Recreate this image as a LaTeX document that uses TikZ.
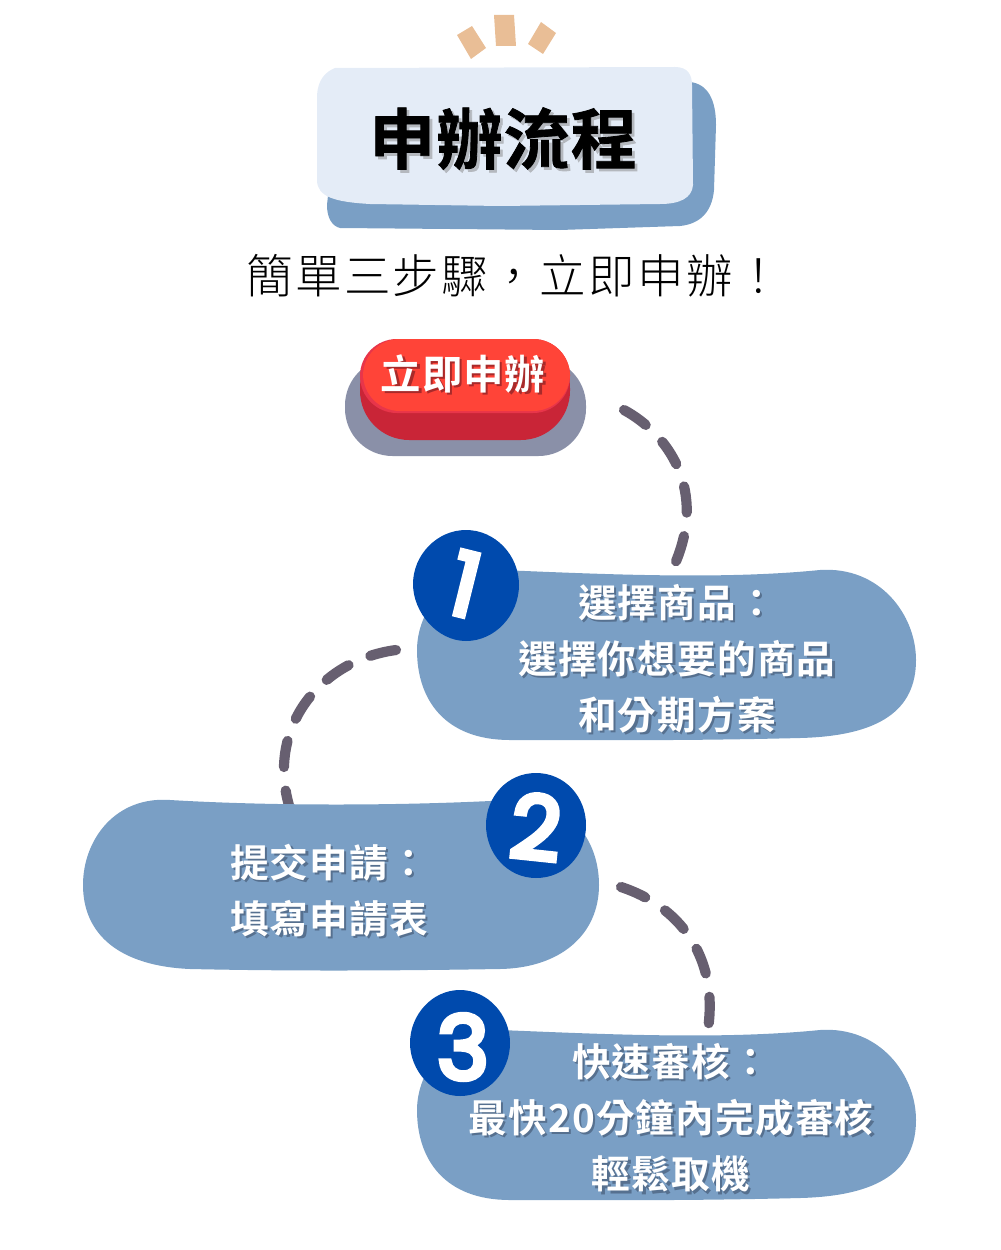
\documentclass[tikz,border=0pt]{standalone}
\usepackage{fontspec}
\usepackage{tikz}
\setmainfont{Noto Sans CJK TC}
\newfontfamily\cardfont[LetterSpace=3]{Noto Sans CJK TC Bold}
\newfontfamily\buttonfont[LetterSpace=2]{Noto Sans CJK TC Bold}
\newfontfamily\titlefont[FakeBold=1.2,LetterSpace=2]{Noto Sans CJK TC Bold}
\newfontfamily\subfont[LetterSpace=5]{Noto Sans CJK TC Light}
\newfontfamily\numfont[FakeBold=6]{Poppins}
\definecolor{cardblue}{HTML}{7A9FC5}
\definecolor{palecard}{HTML}{E4ECF7}
\definecolor{tickcol}{HTML}{E9BE96}
\definecolor{dashcol}{HTML}{675F70}
\definecolor{circlecol}{HTML}{004AAD}
\definecolor{btnback}{HTML}{8A90A8}
\definecolor{btndark}{HTML}{C92537}
\definecolor{btnedge}{HTML}{E8354A}
\definecolor{btntop}{HTML}{FF4438}
\definecolor{titleshade}{HTML}{B4B8BE}
\definecolor{cardshade}{HTML}{56708F}
\definecolor{btnshade}{HTML}{A82A2A}
\newcommand{\shadowed}[3]{\leavevmode\rlap{\kern#1\raisebox{-#1}{\color{#2}#3}}#3}
\tikzset{
  dashline/.style={dashcol,line width=5.8pt,line cap=round,dash pattern=on 15pt off 13.5pt},
  cardtext/.style={white,font=\cardfont\fontsize{22}{31.9}\selectfont,align=center},
  numtext/.style={white,font=\numfont\fontsize{50}{50}\selectfont}
}
\begin{document}
\begin{tikzpicture}[x=0.02cm,y=-0.02cm]
\tikzstyle{every node}+=[inner sep=0pt]
\useasboundingbox (0,0) rectangle (1000,1250);
% ticks
\fill [tickcol] (457,35) -- (472,26) -- (486,48) -- (471,59) -- cycle;
\fill [tickcol] (494,15) -- (514,15) -- (516,46) -- (496,46) -- cycle;
\fill [tickcol] (541,22) -- (556,33) -- (543,54) -- (528,44) -- cycle;
% title card
\fill [cardblue] (340,82) -- (690,82) .. controls (708,84) and (716,100) .. (716,125) -- (714,190) .. controls (712,212) and (700,224) .. (680,226) -- (560,230) -- (340,228) .. controls (332,226) and (327,218) .. (327,205) -- cycle;
\fill [palecard] (335,68) -- (675,67) .. controls (688,67) and (692,75) .. (692,85) -- (693,185) .. controls (692,198) and (680,204) .. (660,204) -- (500,206) -- (370,204) .. controls (335,202) and (317,197) .. (317,180) -- (317,95) .. controls (318,80) and (325,72) .. (335,68) -- cycle;
\node (title) at (503,140) {\titlefont\fontsize{37.5}{38}\selectfont\shadowed{1.6pt}{titleshade}{申辦流程}};
\node (subtitle) at (514,276) {\subfont\fontsize{26.5}{26.5}\selectfont 簡單三步驟，立即申辦！};
% button
\fill [btnback,rounded corners=27pt] (345,358) rectangle (586,456);
\fill [btndark,rounded corners=28pt] (360,339) rectangle (570,440);
\fill [btnedge,rounded corners=21pt] (360,339) rectangle (570,413);
\fill [btntop,rounded corners=21pt] (363,339) rectangle (570,411);
\node (btn) at (463,375) {\buttonfont\fontsize{23}{23}\selectfont\color{white}\shadowed{1.4pt}{btnshade}{立即申辦}};
% connectors
\coordinate (btnout) at (624,410);
\coordinate (onein) at (674,566);
\coordinate (oneout) at (396,650);
\coordinate (twoin) at (292,815);
\coordinate (twoout) at (621,887);
\coordinate (threein) at (706,1040);
\draw [dashline] (btnout) .. controls (668,434) and (708,490) .. (onein);
\draw [dashline] (oneout) .. controls (320,660) and (262,730) .. (twoin);
\draw [dashline] (twoout) .. controls (685,908) and (722,965) .. (threein);
% step 1
\fill [cardblue] (500,570) .. controls (600,574) and (720,580) .. (820,570) .. controls (880,566) and (916,615) .. (916,660) .. controls (916,710) and (880,736) .. (800,738) .. controls (680,741) and (600,740) .. (510,740) .. controls (445,740) and (417,700) .. (417,650) .. controls (417,610) and (450,566) .. (500,570) -- cycle;
\fill [circlecol] (466,530) .. controls (495,530) and (519,555) .. (519,585) .. controls (519,615) and (495,641) .. (466,641) .. controls (437,641) and (413,612) .. (413,584) .. controls (413,555) and (437,530) .. (466,530) -- cycle;
\node (numone) [numtext,rotate=-14] at (465,584) {1};
\node (stepone) [cardtext] at (677,660) {\shadowed{1.3pt}{cardshade}{選擇商品：}\\ \shadowed{1.3pt}{cardshade}{選擇你想要的商品}\\ \shadowed{1.3pt}{cardshade}{和分期方案}};
% step 2
\fill [cardblue] (170,800) .. controls (270,806) and (400,806) .. (510,800) .. controls (570,798) and (599,840) .. (599,885) .. controls (599,935) and (560,968) .. (500,969) .. controls (380,971) and (280,971) .. (190,969) .. controls (120,966) and (83,935) .. (83,885) .. controls (83,840) and (115,796) .. (170,800) -- cycle;
\fill [circlecol] (536,773) .. controls (565,773) and (586,797) .. (586,825) .. controls (586,855) and (565,878) .. (536,878) .. controls (507,878) and (486,853) .. (486,825) .. controls (486,797) and (507,773) .. (536,773) -- cycle;
\node (numtwo) [numtext,rotate=-6] at (536,827) {2};
\node (steptwo) [cardtext,align=left] at (329,892) {\shadowed{1.3pt}{cardshade}{提交申請：}\\ \shadowed{1.3pt}{cardshade}{填寫申請表}};
% step 3
\fill [cardblue] (500,1030) .. controls (600,1034) and (720,1040) .. (820,1030) .. controls (880,1026) and (916,1075) .. (916,1120) .. controls (916,1170) and (880,1196) .. (800,1198) .. controls (680,1201) and (600,1200) .. (510,1200) .. controls (445,1200) and (417,1160) .. (417,1110) .. controls (417,1070) and (450,1026) .. (500,1030) -- cycle;
\fill [circlecol] (460,990) .. controls (488,990) and (510,1015) .. (510,1043) .. controls (510,1072) and (488,1096) .. (460,1096) .. controls (432,1096) and (410,1070) .. (410,1043) .. controls (410,1015) and (432,990) .. (460,990) -- cycle;
\node (numthree) [numtext] at (463,1047) {3};
\node (stepthree) [cardtext] at (671,1119) {\shadowed{1.3pt}{cardshade}{快速審核：}\\ \shadowed{1.3pt}{cardshade}{最快20分鐘內完成審核}\\ \shadowed{1.3pt}{cardshade}{輕鬆取機}};
\end{tikzpicture}
\end{document}
